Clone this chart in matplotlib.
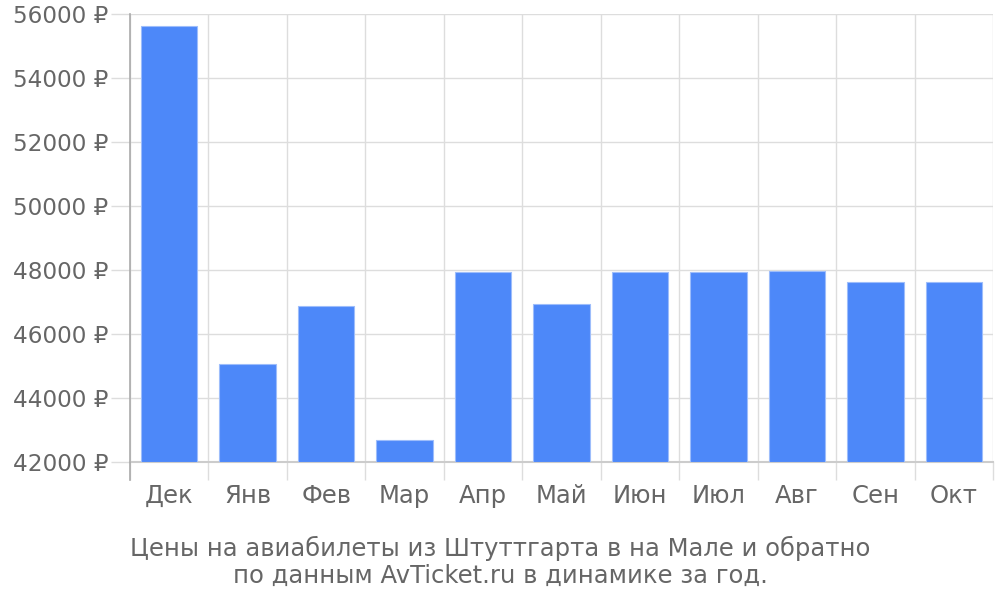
import matplotlib
matplotlib.use("Agg")
import matplotlib.pyplot as plt
from matplotlib.ticker import FixedLocator, FuncFormatter

plt.rcParams['font.family'] = ['DejaVu Sans']

# данные
months = ['Дек', 'Янв', 'Фев', 'Мар', 'Апр', 'Май', 'Июн', 'Июл', 'Авг', 'Сен', 'Окт']
prices = [55620, 45060, 46880, 42680, 47940, 46930, 47940, 47940, 47980, 47630, 47630]
y_ticks = [42000, 44000, 46000, 48000, 50000, 52000, 54000, 56000]
caption = 'Цены на авиабилеты из Штуттгарта в на Мале и обратно\nпо данным AvTicket.ru в динамике за год.'

text_color = '#666666'
grid_color = '#dddddd'
bar_color = '#4d88f9'

fig = plt.figure(figsize=(10, 6), dpi=100)
ax = fig.add_axes([0.13, 0.23, 0.863, 0.7467])

x = list(range(len(months)))
ax.bar(x, [p - y_ticks[0] for p in prices], bottom=y_ticks[0], width=0.72,
       color=bar_color, edgecolor='#9dbdfb', linewidth=0.8, zorder=3)

ax.set_xlim(-0.5, len(months) - 0.5)
ax.set_ylim(y_ticks[0], y_ticks[-1])

# ось Y
ax.set_yticks(y_ticks)
ax.yaxis.set_major_formatter(FuncFormatter(lambda v, pos: f'{int(v)} ₽'))
ax.tick_params(axis='y', length=14, width=1, color=grid_color, pad=1.5,
               labelsize=16.7, labelcolor=text_color)
ax.grid(axis='y', color=grid_color, linewidth=1, zorder=0)

# ось X: подписи по центру, линии сетки по границам
ax.set_xticks(x)
ax.set_xticklabels(months)
ax.tick_params(axis='x', which='major', length=0, pad=16,
               labelsize=17.5, labelcolor=text_color)
ax.xaxis.set_minor_locator(FixedLocator([i - 0.5 for i in range(len(months) + 1)]))
ax.tick_params(axis='x', which='minor', length=13, width=1, color=grid_color)
ax.grid(axis='x', which='minor', color=grid_color, linewidth=1, zorder=0)

for s in ['top', 'right']:
    ax.spines[s].set_visible(False)
ax.spines['left'].set_color('#aaaaaa')
ax.spines['left'].set_linewidth(1.2)
ax.spines['bottom'].set_color('#cccccc')
ax.spines['bottom'].set_linewidth(1.5)

# левая линия продолжается вниз до конца отметок
ax.plot([-0.5, -0.5], [-0.04, 0], transform=ax.get_xaxis_transform(),
        color='#aaaaaa', linewidth=1.2, clip_on=False, zorder=4)

fig.text(0.5, 0.0633, caption, ha='center', va='center', fontsize=17.5,
         color=text_color, linespacing=1.15)

fig.savefig('out.png', dpi=100)
